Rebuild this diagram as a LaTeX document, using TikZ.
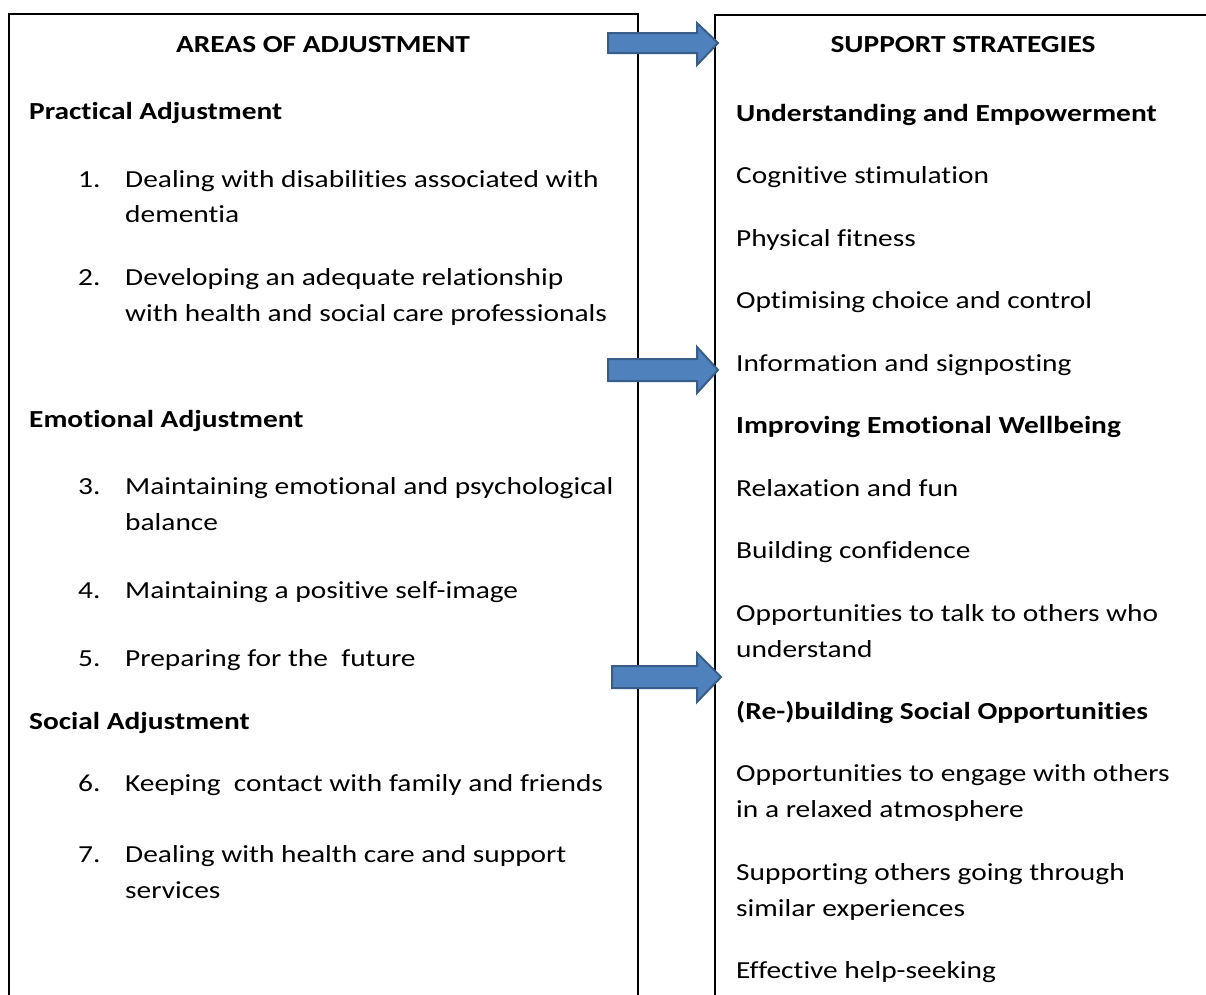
\documentclass[tikz,border=0pt]{standalone}
\usepackage{fontspec}
\setmainfont{Carlito}[FakeStretch=1.2,Ligatures={NoCommon}]
\begin{document}
\begin{tikzpicture}[x=1pt,y=-1pt,
  txt/.style={anchor=base west,inner sep=0pt,font=\fontsize{24.5}{30}\selectfont},
  head/.style={anchor=base,inner sep=0pt,font=\fontsize{24.5}{30}\selectfont\bfseries},
  bold/.style={txt,font=\fontsize{24.5}{30}\selectfont\bfseries},
  frame/.style={line width=2pt,draw=black},
  blockarrow/.style={fill={rgb,255:red,79;green,129;blue,189},draw={rgb,255:red,56;green,93;blue,138},line width=2pt,line join=miter}]
\useasboundingbox (0,0) rectangle (1206,994);
\fill[white] (0,0) rectangle (1206,994);

% open-bottomed frames of the two columns
\draw[frame] (8.5,998) -- (8.5,13.5) -- (638,13.5) -- (638,998);
\draw[frame] (714.5,998) -- (714.5,14.5) -- (1210,14.5);

% left column
\node[head] (hl) at (323,52) {AREAS OF ADJUSTMENT};
\node[bold] (pa) at (29,119) {Practical Adjustment};
\node[txt] (n1) at (78,187) {1.};
\node[txt] (t1) at (125,187) {Dealing with disabilities associated with};
\node[txt] (t1b) at (125,222) {dementia};
\node[txt] (n2) at (78,285) {2.};
\node[txt] (t2) at (125,285) {Developing an adequate relationship};
\node[txt] (t2b) at (125,321) {with health and social care professionals};
\node[bold] (ea) at (29,427) {Emotional Adjustment};
\node[txt] (n3) at (78,494) {3.};
\node[txt] (t3) at (125,494) {Maintaining emotional and psychological};
\node[txt] (t3b) at (125,530) {balance};
\node[txt] (n4) at (78,598) {4.};
\node[txt] (t4) at (125,598) {Maintaining a positive self-image};
\node[txt] (n5) at (78,666) {5.};
\node[txt] (t5) at (125,666) {Preparing for the\ \ future};
\node[bold] (sa) at (29,729) {Social Adjustment};
\node[txt] (n6) at (78,791) {6.};
\node[txt] (t6) at (125,791) {Keeping\ \ contact with family and friends};
\node[txt] (n7) at (78,862) {7.};
\node[txt] (t7) at (125,862) {Dealing with health care and support};
\node[txt] (t7b) at (125,898) {services};

% right column
\node[head] (hr) at (963,52) {SUPPORT STRATEGIES};
\node[bold] (s1) at (736,121) {Understanding and Empowerment};
\node[txt] (r1) at (736,183) {Cognitive stimulation};
\node[txt] (r2) at (736,246) {Physical fitness};
\node[txt] (r3) at (736,308) {Optimising choice and control};
\node[txt] (r4) at (736,371) {Information and signposting};
\node[bold] (s2) at (736,433) {Improving Emotional Wellbeing};
\node[txt] (r5) at (736,496) {Relaxation and fun};
\node[txt] (r6) at (736,558) {Building confidence};
\node[txt] (r7) at (736,621) {Opportunities to talk to others who};
\node[txt] (r7b) at (736,657) {understand};
\node[bold] (s3) at (736,719) {(Re-)building Social Opportunities};
\node[txt] (r8) at (736,781) {Opportunities to engage with others};
\node[txt] (r8b) at (736,817) {in a relaxed atmosphere};
\node[txt] (r9) at (736,880) {Supporting others going through};
\node[txt] (r9b) at (736,916) {similar experiences};
\node[txt] (r10) at (736,978) {Effective help-seeking};

% block arrows between the columns
\draw[blockarrow] (608,33) -- (697,33) -- (697,23) -- (718,43) -- (697,65) -- (697,53) -- (608,53) -- cycle;
\draw[blockarrow] (608,359) -- (697,359) -- (697,347) -- (718,370) -- (697,393) -- (697,381) -- (608,381) -- cycle;
\draw[blockarrow] (612,666) -- (697,666) -- (697,653) -- (721,677) -- (697,702) -- (697,688) -- (612,688) -- cycle;
\end{tikzpicture}
\end{document}
